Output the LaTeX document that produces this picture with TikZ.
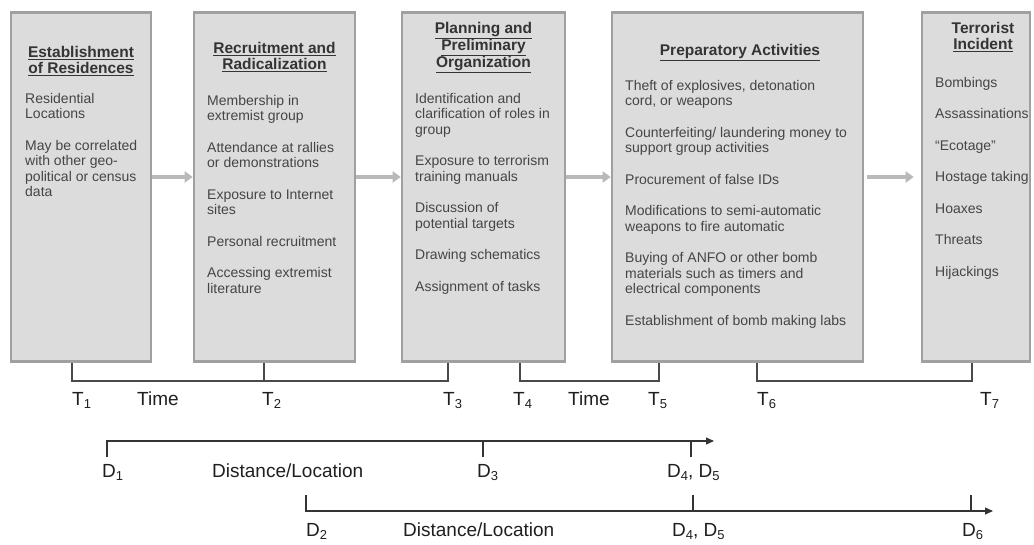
\documentclass[tikz,border=0pt]{standalone}
\usepackage{fontspec}
\setmainfont{Liberation Sans}
\usetikzlibrary{arrows.meta}

\definecolor{boxfill}{HTML}{DCDCDC}
\definecolor{boxline}{HTML}{A0A0A0}
\definecolor{bodytext}{HTML}{454545}
\definecolor{linecol}{HTML}{4A4A4A}

\newcommand{\idx}[1]{\raisebox{-3.5pt}{\fontsize{13}{13}\selectfont #1}}

\begin{document}
\begin{tikzpicture}
[x=1pt, y=-1pt, inner sep=0pt,
 stagebox/.style={rectangle, draw=boxline, fill=boxfill, line width=2.6pt, minimum height=349.5pt},
 stagetitle/.style={anchor=north, align=center, text=bodytext!75!black, font=\fontsize{15.5}{16.5}\selectfont\bfseries},
 stageitems/.style={anchor=north west, align=left, text=bodytext, font=\fontsize{14}{15.5}\selectfont},
 flowarrow/.style={draw=gray!55, line width=3.5pt, -{Triangle[length=8pt,width=11pt]}},
 timebracket/.style={draw=linecol, line width=1.1pt},
 distaxis/.style={draw=linecol!70!black, line width=1.1pt},
 marklabel/.style={anchor=base west, font=\fontsize{19}{19}\selectfont, text=black!88}]
\useasboundingbox (0,0) rectangle (1034,544);

% stages
\node[stagebox, minimum width=140pt] (s1) at (81,187) {};
\node[stagebox, minimum width=161pt] (s2) at (274.5,187) {};
\node[stagebox, minimum width=163pt] (s3) at (483.5,187) {};
\node[stagebox, minimum width=251pt] (s4) at (737.5,187) {};
\node[stagebox, minimum width=108pt] (s5) at (976,187) {};

\node[stagetitle] (h1) at (81,46) {\underline{Establishment}\\\underline{of Residences}};
\node[stagetitle] (h2) at (274.5,42) {\underline{Recruitment and}\\\underline{Radicalization}};
\node[stagetitle] (h3) at (483.5,22) {\underline{Planning and}\\\underline{Preliminary}\\\underline{Organization}};
\node[stagetitle] (h4) at (740,44) {\underline{Preparatory Activities}};
\node[stagetitle] (h5) at (983,22) {Terrorist\\\underline{Incident}};

\node[stageitems] (i1) at (25,93) {Residential\\Locations\\[16pt]May be correlated\\with other geo-\\political or census\\data};
\node[stageitems] (i2) at (207,95) {Membership in\\extremist group\\[16pt]Attendance at rallies\\or demonstrations\\[16pt]Exposure to Internet\\sites\\[16pt]Personal recruitment\\[16pt]Accessing extremist\\literature};
\node[stageitems] (i3) at (415,93) {Identification and\\clarification of roles in\\group\\[16pt]Exposure to terrorism\\training manuals\\[16pt]Discussion of\\potential targets\\[16pt]Drawing schematics\\[16pt]Assignment of tasks};
\node[stageitems] (i4) at (625,80) {Theft of explosives, detonation\\cord, or weapons\\[16pt]Counterfeiting/ laundering money to\\support group activities\\[16pt]Procurement of false IDs\\[16pt]Modifications to semi-automatic\\weapons to fire automatic\\[16pt]Buying of ANFO or other bomb\\materials such as timers and\\electrical components\\[16pt]Establishment of bomb making labs};
\node[stageitems] (i5) at (935,77) {Bombings\\[16pt]Assassinations\\[16pt]“Ecotage”\\[16pt]Hostage taking\\[16pt]Hoaxes\\[16pt]Threats\\[16pt]Hijackings};

\foreach \from/\to in {s1/s2,s2/s3,s3/s4}
	\draw[flowarrow] ([yshift=10pt]\from.east) -- ([yshift=10pt]\to.west);
\draw[flowarrow, shorten <=3pt, shorten >=7pt] ([yshift=10pt]s4.east) -- ([yshift=10pt]s5.west);

% time
\coordinate (t1) at (72,381);
\coordinate (t2) at (264,381);
\coordinate (t3) at (448,381);
\coordinate (t4) at (520,381);
\coordinate (t5) at (659,381);
\coordinate (t6) at (757,381);
\coordinate (t7) at (972,381);

\draw[timebracket] (s1.south -| t1) -- (t1) -- (t3) -- (s3.south -| t3);
\draw[timebracket] (s2.south -| t2) -- (t2);
\draw[timebracket] (s3.south -| t4) -- (t4) -- (t5) -- (s4.south -| t5);
\draw[timebracket] (s4.south -| t6) -- (t6) -- (t7) -- (s5.south -| t7);

\node[marklabel] (T1) at (72,405) {T\idx{1}};
\node[marklabel] (w1) at (137,405) {Time};
\node[marklabel] (T2) at (262,405) {T\idx{2}};
\node[marklabel] (T3) at (443,405) {T\idx{3}};
\node[marklabel] (T4) at (513,405) {T\idx{4}};
\node[marklabel] (w2) at (568,405) {Time};
\node[marklabel] (T5) at (648,405) {T\idx{5}};
\node[marklabel] (T6) at (757,405) {T\idx{6}};
\node[marklabel] (T7) at (980,405) {T\idx{7}};

% distance
\coordinate (d1) at (107,441);
\coordinate (d3) at (483,441);
\coordinate (d4) at (691,441);
\coordinate (e1) at (714,441);
\coordinate (d2) at (306,511);
\coordinate (d5) at (693,511);
\coordinate (d6) at (971,511);
\coordinate (e2) at (993,511);

\draw[distaxis, -{Triangle[length=8pt,width=7pt]}] ([yshift=-16pt]d1) -- (d1) -- (e1);
\draw[distaxis] (d3) -- ([yshift=-16pt]d3);
\draw[distaxis] (d4) -- ([yshift=-16pt]d4);
\draw[distaxis, -{Triangle[length=8pt,width=7pt]}] ([yshift=16pt]d2) -- (d2) -- (e2);
\draw[distaxis] (d5) -- ([yshift=16pt]d5);
\draw[distaxis] (d6) -- ([yshift=16pt]d6);

\node[marklabel] (D1) at (102,477) {D\idx{1}};
\node[marklabel] (m1) at (212,477) {Distance/Location};
\node[marklabel] (D3) at (477,477) {D\idx{3}};
\node[marklabel] (D45a) at (667,477) {D\idx{4}, D\idx{5}};
\node[marklabel] (D2) at (306,536) {D\idx{2}};
\node[marklabel] (m2) at (403,536) {Distance/Location};
\node[marklabel] (D45b) at (672,536) {D\idx{4}, D\idx{5}};
\node[marklabel] (D6) at (962,536) {D\idx{6}};

\end{tikzpicture}
\end{document}
